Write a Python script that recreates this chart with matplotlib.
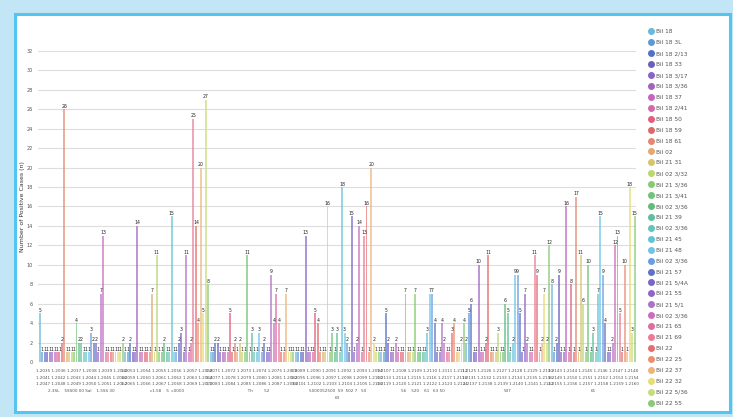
import matplotlib.pyplot as plt
from matplotlib.patches import FancyBboxPatch
from matplotlib.lines import Line2D
import numpy as np

# series (legend entries)
series = ["Bil 18", "Bil 18 3L", "Bil 18 2/13", "Bil 18 33", "Bil 18 3/17",
          "Bil 18 3/36", "Bil 18 37", "Bil 18 2/41", "Bil 18 50", "Bil 18 59",
          "Bil 18 61", "Bil 02", "Bil 21 31", "Bil 02 3/32", "Bil 21 3/36",
          "Bil 21 3/41", "Bil 02 3/36", "Bil 21 39", "Bil 02 3/36", "Bil 21 45",
          "Bil 21 48", "Bil 02 3/36", "Bil 21 57", "Bil 21 5/4A", "Bil 21 55",
          "Bil 21 5/1", "Bil 02 3/36", "Bil 21 65", "Bil 21 69", "Bil 22",
          "Bil 22 25", "Bil 22 37", "Bil 22 32", "Bil 22 5/36", "Bil 22 55"]

colors = ["#6bb8d8", "#5b9bd5", "#5470c6", "#6a5fbf", "#8a63c5", "#a163c0",
          "#c266c0", "#d46aad", "#e0607e", "#e06868", "#e08a70", "#e0aa72",
          "#d8c46a", "#bcd670", "#84cc6e", "#70c47a", "#5fbd7a", "#5fbf9a",
          "#64c4b8", "#62c3d3", "#6ec4ec", "#6a9ee0", "#5e72c8", "#7a66c6",
          "#8f66c4", "#b070c8", "#cc6cbc", "#e06ca0", "#ea7c98", "#e86c6c",
          "#ea9070", "#f0b47a", "#e8dc74", "#c8dc7a", "#8cc878"]

# categories (x groups)
categories = [
    "1.2035 1.2036 1.2037 1.2038 1.2039 1.2040\n1.2041 1.2042 1.2043 1.2044 1.2045 1.2046\n1.2047 1.2048 1.2049 1.2050 1.2051 1.2052\n2.3SL    5SS00 00 Sal    1.5SS 30",
    "1.2053 1.2054 1.2055 1.2056 1.2057 1.2058\n1.2059 1.2060 1.2061 1.2062 1.2063 1.2064\n1.2065 1.2066 1.2067 1.2068 1.2069 1.2070\nc1.58    5  c0000",
    "1.2071 1.2072 1.2073 1.2074 1.2075 1.2076\n1.2077 1.2078 1.2079 1.2080 1.2081 1.2082\n1.2083 1.2084 1.2085 1.2086 1.2087 1.2088\n           Th         52",
    "1.2089 1.2090 1.2091 1.2092 1.2093 1.2094\n1.2095 1.2096 1.2097 1.2098 1.2099 1.2100\n1.2101 1.2102 1.2103 1.2104 1.2105 1.2106\n5000052500  59  502 7   50\n63",
    "1.2107 1.2108 1.2109 1.2110 1.2111 1.2112\n1.2113 1.2114 1.2115 1.2116 1.2117 1.2118\n1.2119 1.2120 1.2121 1.2122 1.2123 1.2124\n56    520    61   63 50",
    "1.2125 1.2126 1.2127 1.2128 1.2129 1.2130\n1.2131 1.2132 1.2133 1.2134 1.2135 1.2136\n1.2137 1.2138 1.2139 1.2140 1.2141 1.2142\n537",
    "1.2143 1.2144 1.2145 1.2146 1.2147 1.2148\n1.2149 1.2150 1.2151 1.2152 1.2153 1.2154\n1.2155 1.2156 1.2157 1.2158 1.2159 1.2160\n61",
]

# values per category, one per series
g1 = [5, 1, 1, 1, 1, 1, 1, 1, 1, 2, 26, 1, 1, 1, 1, 4, 2, 2, 1, 1, 1, 3, 2, 2, 1, 7, 13, 1, 1, 1, 1, 1, 1, 1, 2]
g2 = [1, 1, 2, 1, 1, 14, 1, 1, 1, 1, 1, 7, 1, 11, 1, 1, 2, 1, 1, 15, 1, 1, 2, 3, 1, 11, 1, 2, 25, 14, 4, 20, 5, 27, 8]
g3 = [1, 1, 2, 2, 1, 1, 1, 1, 5, 1, 2, 1, 2, 1, 1, 11, 1, 3, 1, 1, 3, 1, 2, 1, 1, 9, 4, 7, 4, 1, 1, 7, 1, 1, 1]
g4 = [1, 1, 1, 1, 13, 1, 1, 1, 5, 4, 1, 1, 1, 16, 1, 3, 1, 3, 1, 18, 3, 2, 1, 15, 1, 2, 14, 1, 13, 16, 1, 20, 2, 1, 1]
g5 = [1, 1, 5, 2, 1, 1, 2, 1, 1, 1, 7, 1, 1, 1, 7, 1, 1, 1, 1, 3, 7, 7, 4, 1, 1, 4, 2, 1, 1, 3, 4, 1, 1, 2, 4]
g6 = [2, 5, 6, 1, 1, 10, 1, 1, 2, 11, 1, 1, 1, 3, 1, 1, 6, 5, 1, 2, 9, 9, 5, 1, 7, 2, 1, 1, 11, 9, 1, 2, 7, 2, 12]
g7 = [8, 1, 2, 9, 1, 1, 16, 1, 8, 1, 17, 1, 11, 6, 1, 10, 1, 3, 1, 7, 15, 9, 4, 1, 1, 2, 12, 13, 5, 1, 10, 1, 18, 3, 15]
groups = [g1, g2, g3, g4, g5, g6, g7]

W, H = 733, 417
fig = plt.figure(figsize=(W / 100, H / 100), dpi=100)
fig.patch.set_facecolor("#c3e6f6")

# white panel with blue border
panel = FancyBboxPatch((15 / W, 5 / H), 715 / W, 398 / H, boxstyle="square,pad=0",
                       transform=fig.transFigure, facecolor="white",
                       edgecolor="#55c5f0", linewidth=2.2, zorder=-10)
fig.patches.append(panel)

ax = fig.add_axes([38 / W, (H - 362) / H, 598 / W, 311 / H], zorder=1)
ax.set_facecolor("none")

n = len(series)
base = np.arange(len(categories)) * n
for s in range(n):
    vals = [g[s] for g in groups]
    bars = ax.bar(base + s, vals, width=0.8, color=colors[s], alpha=0.68,
                  label=series[s], zorder=2, linewidth=0)
    ax.bar_label(bars, fontsize=3.3, padding=0.4, color="#222222")

ax.set_ylim(0, 32)
ax.set_yticks(np.arange(0, 33, 2))
ax.set_xlim(-0.8, n * len(categories) - 0.4)
ax.set_xticks(base + (n - 1) / 2)
ax.set_xticklabels(categories, fontsize=3, color="#444444", linespacing=1.9)
ax.tick_params(axis="both", length=0, labelsize=3.5, colors="#555555", pad=4)
ax.tick_params(axis="x", labelsize=3, pad=5)
ax.grid(axis="y", color="#dddddd", linewidth=0.8, zorder=0)
for sp in ax.spines.values():
    sp.set_visible(False)
ax.set_ylabel("Number of Positive Cases (n)", fontsize=4.5, color="#333333", labelpad=1)

handles = [Line2D([], [], marker="o", linestyle="none", markersize=4,
                  markerfacecolor=c, markeredgecolor=c) for c in colors]
fig.legend(handles, series, loc="upper left", bbox_to_anchor=(646 / W, 1 - 27 / H),
           frameon=False, fontsize=4.2, labelspacing=1.0, handletextpad=0.3,
           handlelength=1.0, borderaxespad=0, labelcolor="#555555")

fig.savefig("out.png", dpi=100, facecolor=fig.get_facecolor())
